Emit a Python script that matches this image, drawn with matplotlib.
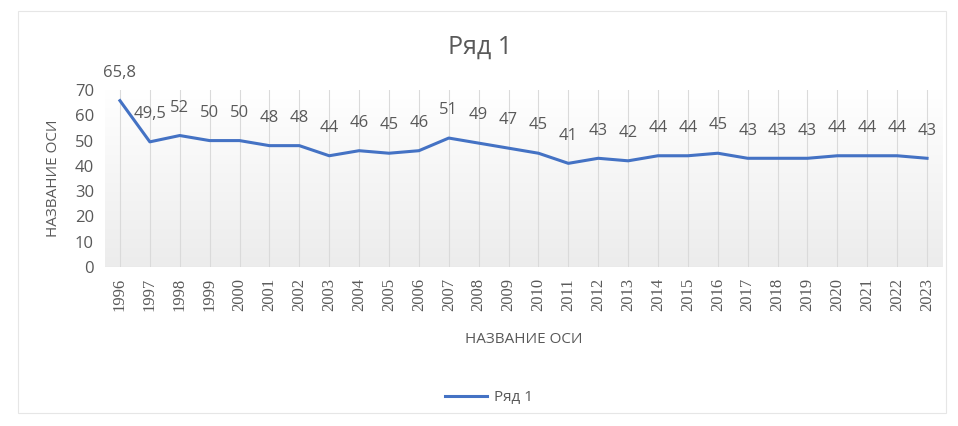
import numpy as np
import matplotlib
matplotlib.use("Agg")
import matplotlib.pyplot as plt
from matplotlib.patches import Rectangle

plt.rcParams['font.family'] = ['Open Sans', 'DejaVu Sans']

years = [str(y) for y in range(1996, 2024)]
values = [65.8, 49.5, 52, 50, 50, 48, 48, 44, 46, 45, 46, 51, 49, 47, 45,
          41, 43, 42, 44, 44, 45, 43, 43, 43, 44, 44, 44, 43]
labels = ["65,8", "49,5"] + [str(int(v)) for v in values[2:]]

text_grey = "#595959"
line_blue = "#4472c4"

fig = plt.figure(figsize=(9.58, 4.26), dpi=100)
fig.patches.append(Rectangle((0.019, 0.03), 0.968, 0.945, transform=fig.transFigure,
                             fill=False, edgecolor="#e6e6e6", linewidth=0.8))

ax = fig.add_axes([0.1096, 0.3732, 0.8737, 0.4155])
x = np.arange(len(years))

# plot area gradient (white at top to light grey at bottom)
grad = np.linspace(1.0, 0.0, 256).reshape(-1, 1)
ax.imshow(grad, extent=(-0.5, len(years) - 0.5, 0, 70), aspect='auto',
          cmap=matplotlib.colors.LinearSegmentedColormap.from_list("g", ["#ececec", "#ffffff"]),
          vmin=0, vmax=1, zorder=0, origin='upper')

for xi in x:
    ax.axvline(xi, color="#dadada", linewidth=0.8, zorder=1)

line, = ax.plot(x, values, color=line_blue, linewidth=2.2, zorder=3, label="Ряд 1")

for xi, v, lab in zip(x, values, labels):
    ax.annotate(lab, (xi, v), xytext=(0, 20), textcoords="offset points",
                ha="center", va="center", fontsize=12, color=text_grey)

ax.set_xlim(-0.5, len(years) - 0.5)
ax.set_ylim(0, 70)
ax.set_yticks(range(0, 71, 10))
ax.set_xticks(x)
ax.set_xticklabels(years, rotation=90, fontsize=12, color=text_grey,
                   family=['Liberation Serif', 'DejaVu Serif'])
ax.tick_params(axis='y', labelsize=12, labelcolor=text_grey, length=0, pad=8)
ax.tick_params(axis='x', length=0, pad=8)
for s in ax.spines.values():
    s.set_visible(False)
ax.axhline(0, color="#d9d9d9", linewidth=0.8, zorder=1)

ax.set_ylabel("НАЗВАНИЕ ОСИ", fontsize=11, color=text_grey, labelpad=10)
ax.set_xlabel("НАЗВАНИЕ ОСИ", fontsize=11, color=text_grey, labelpad=15)

fig.text(0.501, 0.888, "Ряд 1", ha="center", va="center", fontsize=18, color=text_grey)

leg = fig.legend(handles=[line], labels=["Ряд 1"], loc="center",
                 bbox_to_anchor=(0.51, 0.066), frameon=False, fontsize=11,
                 handlelength=2.8, handletextpad=0.4)
for t in leg.get_texts():
    t.set_color(text_grey)

fig.savefig("out.png", dpi=100, facecolor="white")
